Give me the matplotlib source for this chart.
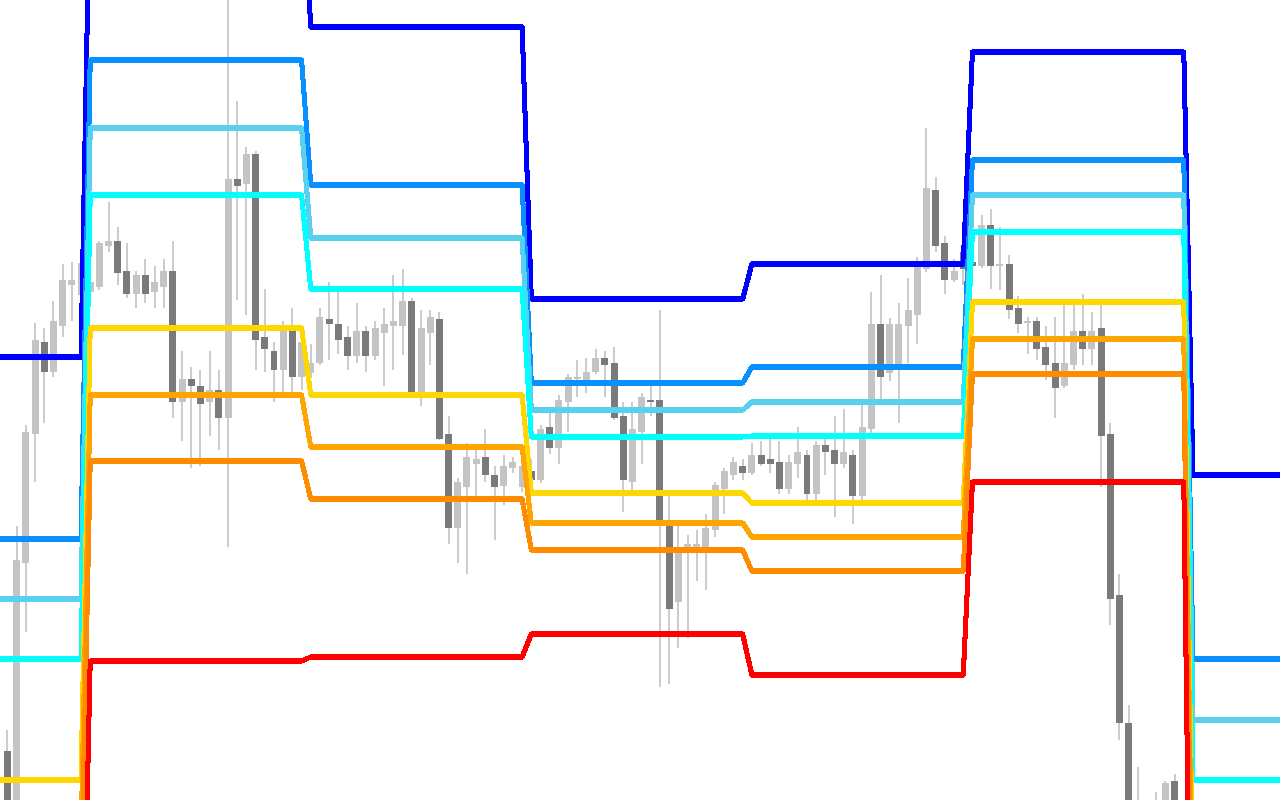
import numpy as np
import matplotlib
matplotlib.use("Agg")
import matplotlib.pyplot as plt

# candle data (price units), one entry per bar
opens = [49, -30, 237, 366, 458, 428, 474, 515, 505, 508,
         513, 554, 559, 529, 506, 525, 508, 513, 529, 398,
         421, 414, 398, 410, 382, 621, 616, 646, 463, 449,
         430, 469, 423, 427, 437, 481, 476, 463, 444, 469,
         444, 467, 474, 474, 499, 407, 467, 481, 366, 272,
         313, 336, 343, 325, 314, 332, 313, 329, 320, 373,
         352, 398, 421, 419, 428, 442, 437, 384, 318, 368,
         400, 400, 274, 198, 251, 253, 253, 270, 311, 325,
         334, 327, 345, 341, 338, 311, 336, 345, 306, 355,
         350, 336, 345, 304, 371, 476, 427, 435, 474, 485,
         531, 610, 557, 520, 548, 538, 534, 575, 534, 536,
         492, 477, 479, 453, 437, 414, 435, 469, 451, 472,
         366, 205, 77, -5, -15, -30, -15, 19]
highs = [70, 274, 375, 477, 472, 499, 536, 538, 544, 530,
         559, 598, 573, 557, 529, 541, 534, 541, 559, 449,
         433, 430, 449, 430, 810, 699, 653, 649, 511, 458,
         479, 492, 473, 456, 492, 518, 509, 474, 497, 474,
         479, 492, 525, 531, 502, 490, 490, 488, 384, 322,
         357, 350, 371, 334, 345, 343, 342, 341, 375, 387,
         405, 426, 440, 442, 451, 449, 453, 398, 398, 407,
         414, 490, 304, 274, 265, 270, 286, 318, 332, 343,
         341, 357, 359, 361, 359, 345, 373, 350, 359, 365,
         384, 391, 350, 396, 508, 525, 482, 497, 522, 543,
         672, 623, 564, 541, 550, 542, 585, 591, 573, 545,
         504, 483, 483, 474, 483, 495, 495, 506, 488, 495,
         377, 226, 95, 33, -5, 8, 19, 26]
lows = [-50, -50, 168, 318, 377, 423, 463, 479, 490, 500,
        510, 548, 515, 502, 492, 497, 492, 492, 382, 359,
        332, 334, 364, 350, 253, 500, 485, 430, 428, 398,
        407, 407, 410, 422, 435, 440, 446, 430, 437, 428,
        440, 414, 430, 445, 405, 394, 435, 360, 256, 237,
        226, 302, 318, 260, 295, 327, 308, 313, 317, 346,
        336, 368, 403, 407, 426, 403, 380, 288, 310, 336,
        384, 113, 116, 152, 162, 219, 210, 263, 286, 320,
        320, 325, 334, 327, 306, 306, 322, 299, 299, 325,
        283, 332, 276, 300, 366, 400, 419, 377, 437, 456,
        528, 548, 506, 518, 515, 530, 532, 511, 510, 481,
        467, 446, 440, 420, 382, 412, 430, 435, 435, 313,
        175, 60, -40, -60, -60, -40, -30, -30]
closes = [-30, 240, 368, 460, 428, 479, 520, 520, 537, 518,
          557, 559, 527, 506, 525, 506, 518, 529, 398, 421,
          414, 396, 410, 382, 621, 614, 646, 460, 451, 430,
          470, 423, 458, 437, 483, 476, 460, 444, 469, 444,
          472, 476, 479, 499, 407, 472, 483, 361, 272, 318,
          343, 341, 325, 313, 334, 338, 334, 320, 371, 352,
          400, 423, 423, 428, 442, 435, 382, 320, 371, 403,
          398, 279, 191, 247, 256, 256, 272, 315, 329, 338,
          327, 345, 336, 336, 311, 338, 348, 306, 355, 348,
          336, 348, 304, 373, 476, 423, 476, 476, 490, 534,
          612, 554, 520, 529, 531, 534, 575, 534, 536, 490,
          476, 479, 451, 435, 412, 437, 469, 451, 469, 364,
          201, 77, -30, -50, -50, -5, 17, -20]

# level lines: one value per period, and how many bars each period spans
period_bars = [10, 24, 24, 24, 24, 24, 11]
levels = {
    "#0000ff": [443, 939, 773, 501, 536, 748, 325],
    "#0890ff": [261, 740, 615, 417, 433, 640, 141],
    "#58d0ef": [201, 672, 562, 390, 398, 605, 80],
    "#00ffff": [141, 605, 511, 363, 364, 568, 20],
    "#ffd700": [20, 472, 405, 307, 297, 498, -100],
    "#ffa500": [-40, 405, 353, 277, 263, 461, -160],
    "#ff8c00": [-100, 339, 301, 250, 229, 426, -220],
    "#ff0000": [-282, 139, 143, 166, 125, 318, -400],
}

n = len(opens)
x = np.arange(n)
o = np.array(opens)
c = np.array(closes)
up = c >= o

fig = plt.figure(figsize=(12.8, 8), dpi=100)
ax = fig.add_axes([0, 0, 1, 1])

ax.vlines(x, lows, highs, color="#cccccc", linewidth=1.44, zorder=1)
ax.bar(x[up], (c - o)[up], bottom=o[up], width=0.76, color="#c4c4c4",
       linewidth=0, zorder=2)
ax.bar(x[~up], (o - c)[~up], bottom=c[~up], width=0.76, color="#7a7a7a",
       linewidth=0, zorder=2)

line_x = np.arange(-1, -1 + sum(period_bars))
for col, vals in levels.items():
    ax.plot(line_x, np.repeat(vals, period_bars), color=col, linewidth=2.9,
            antialiased=False, zorder=3)

ax.set_xlim(-0.816, 138.47)
ax.set_ylim(0, 800)
ax.axis("off")

fig.savefig("out.png", dpi=100, facecolor="white")
